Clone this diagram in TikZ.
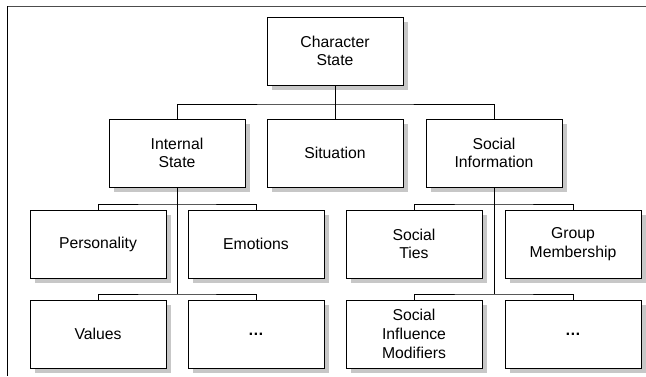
\documentclass[tikz,border=0pt]{standalone}
\usepackage{fontspec}
\setmainfont{Liberation Sans}
\usetikzlibrary{calc}
\usetikzlibrary{backgrounds}

\begin{document}
\begin{tikzpicture}[x=0.025cm,y=-0.025cm,line width=0.6pt,
    box/.style={draw, fill=white, minimum width=3.4cm, minimum height=1.7cm,
      align=center, inner sep=1pt, font=\fontsize{11.2}{13.3}\selectfont},
    boxshadow/.style={fill=black!22, draw=none},
    link/.style={line width=0.5pt}]

  \useasboundingbox (0,0) rectangle (646,376);

  % frame round the figure
  \draw[black!70, line width=0.5pt] (7,6) -- (646,6);
  \draw[line width=0.5pt] (7,6) -- (7,376);

  % top level
  \node[box] (cs) at (335,51) {Character\\State};

  % second level
  \node[box] (is)  at (177,153) {Internal\\State};
  \node[box] (sit) at (335,153) {Situation};
  \node[box] (si)  at (494,153) {Social\\Information};

  % internal state parts
  \node[box] (pers)  at (98,244)  {Personality};
  \node[box] (emo)   at (256,244) {Emotions};
  \node[box] (val)   at (98,334)  {Values};
  \node[box] (imore) at (256,334) {\textbf{\dots}};

  % social information parts
  \node[box] (ties)  at (414,244) {Social\\Ties};
  \node[box] (grp)   at (573,244) {Group\\Membership};
  \node[box] (sim)   at (414,334) {Social\\Influence\\Modifiers};
  \node[box] (smore) at (573,334) {\textbf{\dots}};

  % shadows behind the boxes
  \begin{scope}[on background layer]
    \foreach \n in {cs,is,sit,si,pers,emo,val,imore,ties,grp,sim,smore}
      \fill[boxshadow] ($(\n.south west)+(5,5)$) rectangle ($(\n.north east)+(5,5)$);
  \end{scope}

  % bus points
  \coordinate (b1)  at (335,104);
  \coordinate (ib2) at (177,204);
  \coordinate (ib3) at (177,294);
  \coordinate (sb2) at (494,204);
  \coordinate (sb3) at (494,294);

  % connectors
  \draw[link] (cs.south) -- (sit.north);
  \draw[link] (is.north) |- (b1) -| (si.north);

  \draw[link] (is.south) -- (ib3);
  \draw[link] (pers.north) |- (ib2) -| (emo.north);
  \draw[link] (val.north) |- (ib3) -| (imore.north);

  \draw[link] (si.south) -- (sb3);
  \draw[link] (ties.north) |- (sb2) -| (grp.north);
  \draw[link] (sim.north) |- (sb3) -| (smore.north);

\end{tikzpicture}
\end{document}
